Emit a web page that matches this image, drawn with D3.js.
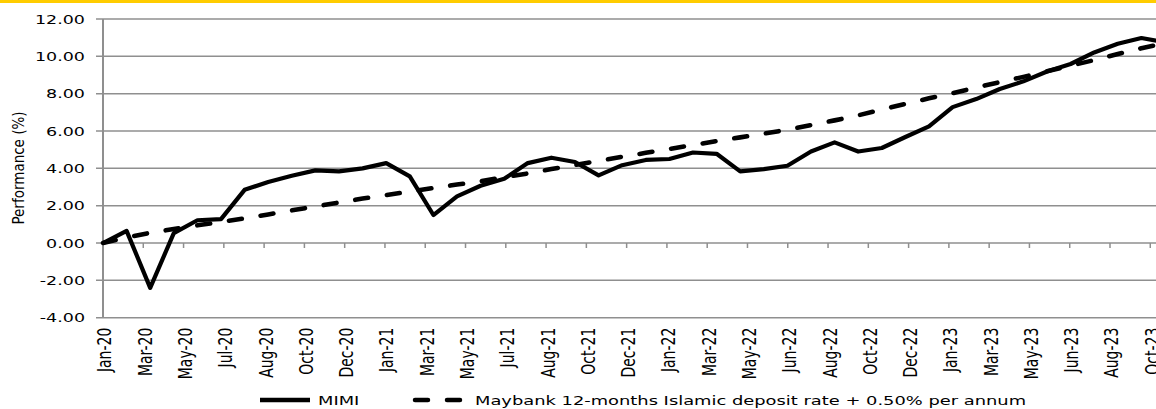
<!DOCTYPE html>
<html>
<head>
<meta charset="utf-8">
<script src="https://cdn.jsdelivr.net/npm/d3@7"></script>
<style>
  html, body { margin: 0; padding: 0; background: #fff; }
  svg { display: block; }
</style>
</head>
<body>
<div id="chart"></div>
<script>
const months = [
  'Jan-20','Feb-20','Mar-20','Apr-20','May-20','Jun-20','Jul-20','Aug-20','Sep-20','Oct-20','Nov-20','Dec-20',
  'Jan-21','Feb-21','Mar-21','Apr-21','May-21','Jun-21','Jul-21','Aug-21','Sep-21','Oct-21','Nov-21','Dec-21',
  'Jan-22','Feb-22','Mar-22','Apr-22','May-22','Jun-22','Jul-22','Aug-22','Sep-22','Oct-22','Nov-22','Dec-22',
  'Jan-23','Feb-23','Mar-23','Apr-23','May-23','Jun-23','Jul-23','Aug-23','Sep-23','Oct-23'
];

// MIMI cumulative performance (%)
const mimi = [
  0.00, 0.65, -2.40, 0.53, 1.22, 1.28, 2.85, 3.27, 3.60, 3.89, 3.84, 4.00,
  4.28, 3.57, 1.50, 2.50, 3.07, 3.44, 4.28, 4.57, 4.34, 3.62, 4.17, 4.45,
  4.50, 4.85, 4.78, 3.84, 3.96, 4.14, 4.90, 5.39, 4.90, 5.09, 5.68, 6.25,
  7.28, 7.71, 8.25, 8.66, 9.19, 9.59, 10.21, 10.67, 10.98, 10.75
];

// Maybank 12-months Islamic deposit rate + 0.50% p.a. (%)
const benchmark = [
  0.00, 0.30, 0.55, 0.75, 0.95, 1.13, 1.32, 1.53, 1.75, 1.96, 2.17, 2.38,
  2.57, 2.76, 2.95, 3.13, 3.31, 3.52, 3.73, 3.96, 4.18, 4.40, 4.62, 4.83,
  5.04, 5.25, 5.46, 5.66, 5.86, 6.07, 6.32, 6.57, 6.84, 7.15, 7.45, 7.75,
  8.03, 8.33, 8.62, 8.90, 9.20, 9.50, 9.80, 10.12, 10.43, 10.70
];

const xTickLabels = [
  'Jan-20','Mar-20','May-20','Jul-20','Aug-20','Oct-20','Dec-20',
  'Jan-21','Mar-21','May-21','Jul-21','Aug-21','Oct-21','Dec-21',
  'Jan-22','Mar-22','May-22','Jun-22','Aug-22','Oct-22','Dec-22',
  'Jan-23','Mar-23','May-23','Jun-23','Aug-23','Oct-23'
];

const yTicks = [-4, -2, 0, 2, 4, 6, 8, 10, 12];

const seriesNames = ['MIMI', 'Maybank 12-months Islamic deposit rate + 0.50% per annum'];

const width = 1156;
const height = 409;
const plotLeft = 103;
const plotTop = 19;
const plotBottom = 317.7;
const monthStep = 23.6;
const tickStep = 40.28;
const stretch = 1.4; // the original picture is stretched sideways

const gridColor = '#8f8f8f';
const font = 'DejaVu Sans, Verdana, sans-serif';

// plain hyphen for negatives, like the original
const fmt = d3.formatLocale({ decimal: '.', thousands: ',', grouping: [3], currency: ['', ''], minus: '-' }).format('.2f');

const svg = d3.select('#chart').append('svg')
  .attr('width', width)
  .attr('height', height);

// yellow band at the top
svg.append('rect')
  .attr('x', 0)
  .attr('y', 0)
  .attr('width', width)
  .attr('height', 3)
  .attr('fill', '#ffcc00');

const xScale = d3.scaleLinear()
  .domain([0, months.length - 1])
  .range([plotLeft, plotLeft + (months.length - 1) * monthStep]);

const tickScale = d3.scalePoint()
  .domain(xTickLabels)
  .range([plotLeft, plotLeft + (xTickLabels.length - 1) * tickStep]);

const yScale = d3.scaleLinear()
  .domain([-4, 12])
  .range([plotBottom, plotTop]);

// gridlines + y tick marks
svg.append('g')
  .selectAll('line')
  .data(yTicks)
  .enter()
  .append('line')
  .attr('x1', plotLeft - 7)
  .attr('x2', width)
  .attr('y1', d => yScale(d))
  .attr('y2', d => yScale(d))
  .attr('stroke', gridColor)
  .attr('stroke-width', 1.5);

// y axis line
svg.append('line')
  .attr('x1', plotLeft)
  .attr('x2', plotLeft)
  .attr('y1', yScale(12))
  .attr('y2', yScale(-4))
  .attr('stroke', gridColor)
  .attr('stroke-width', 2);

// y tick labels
svg.append('g')
  .selectAll('text')
  .data(yTicks)
  .enter()
  .append('text')
  .attr('transform', d => `translate(${plotLeft - 18},${yScale(d) + 4.5}) scale(${stretch},1)`)
  .attr('text-anchor', 'end')
  .attr('font-family', font)
  .attr('font-size', '12.5px')
  .attr('fill', '#000')
  .text(d => fmt(d));

// x tick marks hanging from the zero line
svg.append('g')
  .selectAll('line')
  .data(xTickLabels.slice(1))
  .enter()
  .append('line')
  .attr('x1', d => tickScale(d))
  .attr('x2', d => tickScale(d))
  .attr('y1', yScale(0))
  .attr('y2', yScale(0) + 5)
  .attr('stroke', gridColor)
  .attr('stroke-width', 1.5);

// x tick labels, rotated
svg.append('g')
  .selectAll('text')
  .data(xTickLabels)
  .enter()
  .append('text')
  .attr('transform', d => `translate(${tickScale(d) + 1.5},${plotBottom + 10}) scale(1.45,1) rotate(-90)`)
  .attr('text-anchor', 'end')
  .attr('dominant-baseline', 'central')
  .attr('font-family', font)
  .attr('font-size', '14px')
  .attr('fill', '#000')
  .text(d => d);

// y axis title
svg.append('text')
  .attr('transform', `translate(19,${(plotTop + yScale(0)) / 2 + 37}) scale(1.2,1) rotate(-90)`)
  .attr('text-anchor', 'middle')
  .attr('dominant-baseline', 'central')
  .attr('font-family', font)
  .attr('font-size', '13.5px')
  .attr('fill', '#000')
  .text('Performance (%)');

const line = d3.line()
  .x((d, i) => xScale(i))
  .y(d => yScale(d));

svg.append('path')
  .datum(benchmark)
  .attr('d', line)
  .attr('fill', 'none')
  .attr('stroke', '#000')
  .attr('stroke-width', 4.6)
  .attr('stroke-linecap', 'round')
  .attr('stroke-dasharray', '13,19');

svg.append('path')
  .datum(mimi)
  .attr('d', line)
  .attr('fill', 'none')
  .attr('stroke', '#000')
  .attr('stroke-width', 4.2)
  .attr('stroke-linejoin', 'round');

// legend
const legendY = 400;

svg.append('line')
  .attr('x1', 260)
  .attr('x2', 310)
  .attr('y1', legendY)
  .attr('y2', legendY)
  .attr('stroke', '#000')
  .attr('stroke-width', 4.5);

svg.append('text')
  .attr('transform', `translate(318,${legendY + 5}) scale(1.43,1)`)
  .attr('font-family', font)
  .attr('font-size', '12.5px')
  .attr('fill', '#000')
  .text(seriesNames[0]);

svg.append('line')
  .attr('x1', 415)
  .attr('x2', 461)
  .attr('y1', legendY)
  .attr('y2', legendY)
  .attr('stroke', '#000')
  .attr('stroke-width', 4.5)
  .attr('stroke-linecap', 'round')
  .attr('stroke-dasharray', '13,19');

svg.append('text')
  .attr('transform', `translate(475,${legendY + 5}) scale(1.43,1)`)
  .attr('font-family', font)
  .attr('font-size', '12.5px')
  .attr('fill', '#000')
  .text(seriesNames[1]);
</script>
</body>
</html>
